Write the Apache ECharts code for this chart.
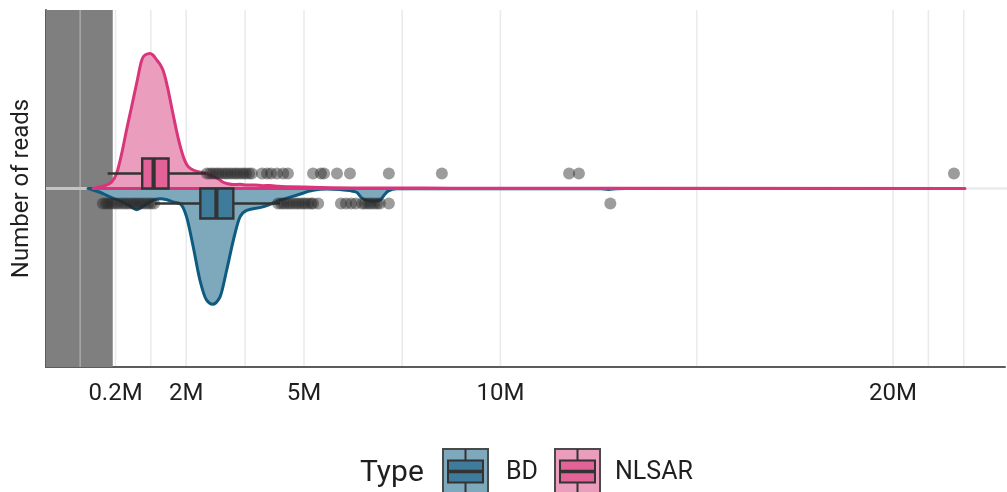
<!DOCTYPE html>
<html>
<head>
<meta charset="utf-8">
<script src="https://cdn.jsdelivr.net/npm/echarts@6/dist/echarts.min.js"></script>
<style>
  html, body { margin: 0; padding: 0; background: #fff; }
  #chart { width: 1007px; height: 492px; }
</style>
</head>
<body>
<div id="chart"></div>
<script>
// Read counts are in millions.
const tickValues = [0.2, 2, 5, 10, 20];
const tickLabels = ['0.2M', '2M', '5M', '10M', '20M'];
const majorBreaks = [0.2, 2, 5, 10, 20, 21.8];
const minorBreaks = [-0.7, 1.1, 3.5, 7.5, 15, 20.9];

// Low-read zone shaded on the left of the panel
const lowReadZone = [-1.57, 0.13];

// Half-violin outlines: [reads (M), scaled density]
const nlsarViolin = [
  [-0.37, 0], [-0.25, 0.007], [-0.07, 0.016], [0.10, 0.037], [0.23, 0.086], [0.36, 0.198],
  [0.48, 0.327], [0.61, 0.458], [0.74, 0.591], [0.87, 0.72], [0.95, 0.748], [1.08, 0.756],
  [1.15, 0.748], [1.25, 0.72], [1.33, 0.697], [1.41, 0.663], [1.47, 0.619], [1.54, 0.552],
  [1.66, 0.422], [1.79, 0.288], [1.89, 0.204], [1.97, 0.153], [2.04, 0.125], [2.14, 0.108],
  [2.25, 0.097], [2.39, 0.091], [2.53, 0.083], [2.66, 0.069], [2.81, 0.055], [2.94, 0.035],
  [3.06, 0.027], [3.20, 0.022], [3.37, 0.024], [3.55, 0.019], [3.75, 0.020], [3.95, 0.016],
  [4.13, 0.017], [4.35, 0.012], [4.64, 0.010], [5.00, 0.008], [5.41, 0.006], [6.42, 0.003],
  [8.71, 0.002], [12.5, 0.001], [21.83, 0]
];
const bdViolin = [
  [-0.50, 0], [-0.40, -0.007], [-0.20, -0.021], [-0.03, -0.038], [0.19, -0.060], [0.39, -0.077],
  [0.57, -0.099], [0.74, -0.119], [0.90, -0.099], [1.08, -0.075], [1.20, -0.063], [1.33, -0.057],
  [1.51, -0.063], [1.66, -0.075], [1.84, -0.085], [2.01, -0.159], [2.18, -0.328], [2.35, -0.514],
  [2.52, -0.626], [2.67, -0.649], [2.86, -0.608], [3.03, -0.458], [3.20, -0.290], [3.37, -0.159],
  [3.54, -0.122], [3.95, -0.103], [4.39, -0.066], [4.81, -0.038], [5.23, -0.010], [5.58, -0.003],
  [5.92, -0.006], [6.17, -0.012], [6.34, -0.021], [6.45, -0.049], [6.58, -0.066], [6.76, -0.071],
  [6.93, -0.066], [7.04, -0.038], [7.14, -0.015], [7.36, -0.002], [7.95, -0.001], [12.55, -0.001],
  [12.75, -0.005], [12.95, -0.001], [13.2, 0]
];

// Box statistics: [lower whisker, Q1, median, Q3, upper whisker]
const nlsarBox = [0.0, 0.88, 1.17, 1.55, 2.5];
const bdBox = [1.2, 2.36, 2.77, 3.20, 4.39];

// Outlying samples (M reads)
const nlsarOutliers = [
  2.53, 2.61, 2.68, 2.76, 2.83, 2.91, 2.99, 3.06, 3.14, 3.22, 3.29, 3.37, 3.45, 3.52, 3.60, 3.67,
  3.93, 4.06, 4.16, 4.31, 4.47, 4.59, 5.23, 5.43, 5.51, 5.84, 6.17, 7.16, 8.51, 11.75, 12.0, 21.55
];
const bdOutliers = [
  -0.12, -0.04, 0.03, 0.11, 0.19, 0.26, 0.34, 0.42, 0.49, 0.57, 0.65, 0.72, 0.80, 0.87, 0.95, 1.03,
  1.10, 1.18, 4.34, 4.42, 4.49, 4.57, 4.64, 4.72, 4.80, 4.87, 4.95, 5.02, 5.10, 5.18, 5.23, 5.36,
  5.94, 6.07, 6.20, 6.32, 6.48, 6.55, 6.63, 6.70, 6.78, 6.86, 6.93, 7.16, 12.80
];

const palette = {
  BD: { line: '#0f5a7f', area: '#7ea8bc', box: '#3f7c9b' },
  NLSAR: { line: '#d8357a', area: '#eb9dbd', box: '#e36297' }
};

const FONT = 'Roboto';
const TEXT = '#1f1f1f';
const DOT_OFFSET = 0.084;   // outlier rows sit on the whisker lines
const BOX_PX = 30;          // box height in pixels

const chart = echarts.init(document.getElementById('chart'), null, { renderer: 'canvas' });

function gridRender(params, api) {
  const v = api.value(0);
  const top = api.coord([v, 1]);
  const bot = api.coord([v, -1]);
  return {
    type: 'line',
    shape: { x1: top[0], y1: top[1], x2: bot[0], y2: bot[1] },
    style: { stroke: '#ebebeb', lineWidth: 1.6 }
  };
}

// Smooth closed outline: monotone (Steffen) cubic through the pixel points,
// closed back along the baseline.
function violinPath(pts) {
  const n = pts.length;
  const sgn = v => (v > 0) - (v < 0);
  const slopes = [];
  for (let i = 0; i < n; i++) {
    if (i === 0 || i === n - 1) {
      slopes.push(0);
    } else {
      const h0 = pts[i][0] - pts[i - 1][0], h1 = pts[i + 1][0] - pts[i][0];
      const d0 = (pts[i][1] - pts[i - 1][1]) / h0, d1 = (pts[i + 1][1] - pts[i][1]) / h1;
      const p = (d0 * h1 + d1 * h0) / (h0 + h1);
      slopes.push((sgn(d0) + sgn(d1)) * Math.min(Math.abs(d0), Math.abs(d1), 0.5 * Math.abs(p)));
    }
  }
  let d = 'M' + pts[0][0] + ' ' + pts[0][1];
  for (let i = 0; i < n - 1; i++) {
    const h = pts[i + 1][0] - pts[i][0];
    const c1 = [pts[i][0] + h / 3, pts[i][1] + slopes[i] * h / 3];
    const c2 = [pts[i + 1][0] - h / 3, pts[i + 1][1] - slopes[i + 1] * h / 3];
    d += ' C' + c1[0] + ' ' + c1[1] + ' ' + c2[0] + ' ' + c2[1] + ' ' + pts[i + 1][0] + ' ' + pts[i + 1][1];
  }
  d += ' Z';
  return d;
}

function violinSeries(data, colors, z) {
  return {
    type: 'custom', z, silent: true,
    data: data,
    renderItem: function (params, api) {
      if (params.dataIndex !== 0) return null;
      const pts = data.map(p => api.coord(p));
      return {
        type: 'path',
        shape: { pathData: violinPath(pts) },
        style: { fill: colors.area, stroke: colors.line, lineWidth: 3, lineJoin: 'round' }
      };
    }
  };
}

function boxRender(dir, colors) {
  return function (params, api) {
    const lo = api.value(0), q1 = api.value(1), med = api.value(2), q3 = api.value(3), hi = api.value(4);
    const y0 = api.coord([q1, 0])[1];
    const yw = y0 - dir * BOX_PX / 2;
    const yb = y0 - dir * BOX_PX;
    const xs = [lo, q1, med, q3, hi].map(v => api.coord([v, 0])[0]);
    const stroke = '#333333';
    return {
      type: 'group',
      children: [
        { type: 'line', shape: { x1: xs[0], y1: yw, x2: xs[1], y2: yw }, style: { stroke, lineWidth: 2.4 } },
        { type: 'line', shape: { x1: xs[3], y1: yw, x2: xs[4], y2: yw }, style: { stroke, lineWidth: 2.4 } },
        { type: 'rect', shape: { x: xs[1], y: Math.min(y0, yb), width: xs[3] - xs[1], height: BOX_PX },
          style: { fill: colors.box, stroke, lineWidth: 2.4 } },
        { type: 'line', shape: { x1: xs[2], y1: y0, x2: xs[2], y2: yb }, style: { stroke, lineWidth: 4.2 } }
      ]
    };
  };
}

const series = [
  // background grid lines
  {
    type: 'custom', z: 0, silent: true,
    data: majorBreaks.concat(minorBreaks).map(v => [v]),
    renderItem: gridRender
  },
  {
    type: 'custom', z: 0, silent: true,
    data: [[0]],
    renderItem: function (params, api) {
      const a = api.coord([-1.57, 0]);
      const b = api.coord([22.85, 0]);
      return { type: 'line', shape: { x1: a[0], y1: a[1], x2: b[0] + 4, y2: b[1] }, style: { stroke: '#ebebeb', lineWidth: 2.6 } };
    }
  },
  // low-read zone with the grid showing through
  {
    type: 'custom', z: 1, silent: true,
    data: [lowReadZone],
    renderItem: function (params, api) {
      const p0 = api.coord([api.value(0), 1]);
      const p1 = api.coord([api.value(1), -1]);
      const children = [
        { type: 'rect', shape: { x: p0[0], y: p0[1], width: p1[0] - p0[0], height: p1[1] - p0[1] }, style: { fill: '#7f7f7f' } }
      ];
      majorBreaks.concat(minorBreaks).forEach(v => {
        if (v > lowReadZone[0] && v < lowReadZone[1]) {
          const t = api.coord([v, 1]), b = api.coord([v, -1]);
          children.push({ type: 'line', shape: { x1: t[0], y1: t[1], x2: b[0], y2: b[1] }, style: { stroke: '#a6a6a6', lineWidth: 1.6 } });
        }
      });
      const m = api.coord([0, 0]);
      children.push({ type: 'line', shape: { x1: p0[0], y1: m[1], x2: p1[0], y2: m[1] }, style: { stroke: '#c4c4c4', lineWidth: 2.8 } });
      return { type: 'group', children };
    }
  },
  // half violins
  violinSeries(bdViolin, palette.BD, 2),
  violinSeries(nlsarViolin, palette.NLSAR, 3),
  // box plots
  { type: 'custom', z: 4, silent: true, data: [bdBox], renderItem: boxRender(-1, palette.BD) },
  { type: 'custom', z: 4, silent: true, data: [nlsarBox], renderItem: boxRender(1, palette.NLSAR) },
  // outliers
  {
    type: 'scatter', z: 5, silent: true, symbolSize: 12,
    data: bdOutliers.map(v => [v, -DOT_OFFSET]),
    itemStyle: { color: 'rgba(40,40,40,0.58)' }
  },
  {
    type: 'scatter', z: 5, silent: true, symbolSize: 12,
    data: nlsarOutliers.map(v => [v, DOT_OFFSET]),
    itemStyle: { color: 'rgba(40,40,40,0.58)' }
  }
];

// legend keys drawn as small box-plot glyphs
function legendKey(x, t) {
  const c = palette[t];
  const y = 449, w = 45, h = 48;
  const cx = x + w / 2;
  return [
    { type: 'rect', shape: { x, y, width: w, height: h }, style: { fill: c.area, stroke: '#4a4a4a', lineWidth: 2 } },
    { type: 'line', shape: { x1: cx, y1: y, x2: cx, y2: y + h }, style: { stroke: '#333', lineWidth: 2 } },
    { type: 'rect', shape: { x: x + 5, y: y + 11.5, width: w - 10, height: 22 }, style: { fill: c.box, stroke: '#333', lineWidth: 2 } },
    { type: 'line', shape: { x1: x + 5, y1: y + 22.5, x2: x + w - 5, y2: y + 22.5 }, style: { stroke: '#333', lineWidth: 3.4 } }
  ];
}

const graphics = [
  { type: 'text', style: { x: 360, y: 473, text: 'Type', font: '30px ' + FONT, fill: TEXT, verticalAlign: 'middle' } },
  ...legendKey(443, 'BD'),
  { type: 'text', style: { x: 506, y: 473, text: 'BD', font: '25px ' + FONT, fill: TEXT, verticalAlign: 'middle' } },
  ...legendKey(555, 'NLSAR'),
  { type: 'text', style: { x: 615, y: 473, text: 'NLSAR', font: '25px ' + FONT, fill: TEXT, verticalAlign: 'middle' } }
];

chart.setOption({
  animation: false,
  backgroundColor: '#ffffff',
  textStyle: { fontFamily: FONT },
  grid: { left: 46, right: 2, top: 10, bottom: 125, containLabel: false },
  xAxis: {
    type: 'value', min: -1.57, max: 22.85,
    axisLine: { show: true, onZero: false, lineStyle: { color: '#5c5c5c', width: 2 } },
    axisTick: { show: false },
    splitLine: { show: false },
    axisLabel: {
      customValues: tickValues,
      formatter: v => tickLabels[tickValues.indexOf(v)] || '',
      color: TEXT, fontSize: 24, fontFamily: FONT, margin: 15
    }
  },
  yAxis: {
    type: 'value', min: -1, max: 1,
    name: 'Number of reads', nameLocation: 'middle', nameGap: 12, nameRotate: 90,
    nameTextStyle: { color: TEXT, fontSize: 24, fontFamily: FONT },
    axisLine: { show: true, onZero: false, lineStyle: { color: '#5c5c5c', width: 2 } },
    axisTick: { show: false },
    axisLabel: { show: false },
    splitLine: { show: false }
  },
  graphic: graphics.map(g => Object.assign({ silent: true, z: 10 }, g)),
  series
});
</script>
</body>
</html>
